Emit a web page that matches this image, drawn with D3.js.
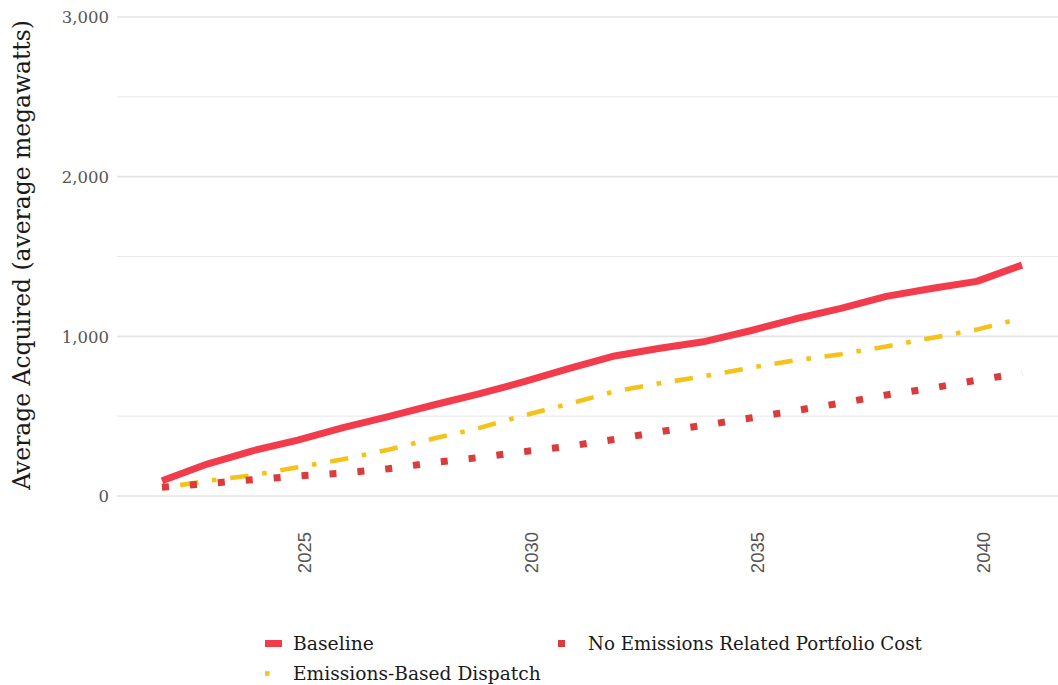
<!DOCTYPE html>
<html>
<head>
<meta charset="utf-8">
<script src="https://cdn.jsdelivr.net/npm/d3@7"></script>
<style>
  html, body { margin: 0; padding: 0; background: #fff; }
  svg { display: block; }
</style>
</head>
<body>
<svg id="chart" width="1058" height="685"></svg>
<script>
// ---- data ----
const years = [2022, 2023, 2024, 2025, 2026, 2027, 2028, 2029, 2030, 2031,
               2032, 2033, 2034, 2035, 2036, 2037, 2038, 2039, 2040, 2041];
const baseline = [95, 200, 283, 350, 428, 497, 570, 639, 716, 799,
                  877, 925, 968, 1035, 1110, 1175, 1250, 1300, 1344, 1446];
const emissionsBasedDispatch = [50, 95, 130, 180, 230, 290, 360, 425, 505, 578,
                                655, 706, 752, 803, 850, 888, 937, 990, 1042, 1113];
const noEmissionsPortfolioCost = [55, 78, 102, 125, 143, 171, 209, 241, 278, 312,
                                  355, 403, 444, 488, 535, 582, 633, 675, 725, 772];
const seriesNames = ["Baseline", "Emissions-Based Dispatch", "No Emissions Related Portfolio Cost"];
const yMajorTicks = [0, 1000, 2000, 3000];
const yMinorTicks = [500, 1500, 2500];
const xTicks = [2025, 2030, 2035, 2040];
const yTitle = "Average Acquired (average megawatts)";

// ---- styles ----
const colors = ["#F23C4C", "#F5C21B", "#DA3B3B"];
const widths = [7, 4.6, 7];
const dashes = [null, "4.6,13.8,18.4,13.8", "7,21"];

const svg = d3.select("#chart");
const x = d3.scaleLinear().domain([2022, 2041]).range([162, 1022]);
const y = d3.scaleLinear().domain([0, 3000]).range([496, 17]);
const plotLeft = 117, plotRight = 1058;

// gridlines
svg.append("g").selectAll("line.minor").data(yMinorTicks).join("line")
  .attr("x1", plotLeft).attr("x2", plotRight)
  .attr("y1", d => y(d)).attr("y2", d => y(d))
  .attr("stroke", "#ebebeb").attr("stroke-width", 1.1);
svg.append("g").selectAll("line.major").data(yMajorTicks).join("line")
  .attr("x1", plotLeft).attr("x2", plotRight)
  .attr("y1", d => y(d)).attr("y2", d => y(d))
  .attr("stroke", "#e4e4e4").attr("stroke-width", 1.7);

// y axis labels
const yAxis = d3.axisLeft(y).tickValues(yMajorTicks).tickFormat(d3.format(",")).tickSize(0).tickPadding(0);
const yg = svg.append("g").attr("transform", "translate(109,0)").call(yAxis);
yg.select(".domain").remove();
yg.selectAll("text").attr("font-family", "'DejaVu Serif', serif").attr("font-size", 16.5)
  .attr("fill", "#555").attr("dy", "0.36em");

// x axis labels
const xAxis = d3.axisBottom(x).tickValues(xTicks).tickFormat(d3.format("d")).tickSize(0).tickPadding(0);
const xg = svg.append("g").attr("transform", "translate(0,0)").call(xAxis);
xg.select(".domain").remove();
xg.selectAll(".tick").attr("transform", d => `translate(${x(d) + 7},532)`);
xg.selectAll("text")
  .attr("font-family", "'Liberation Sans', Arial, sans-serif").attr("font-size", 18.5)
  .attr("fill", "#555").attr("y", 0).attr("dy", "0.35em")
  .attr("transform", "rotate(-90)").attr("text-anchor", "end");

// y title
const yt = svg.append("text")
  .attr("transform", "translate(22,255) rotate(-90)")
  .attr("text-anchor", "middle").attr("dy", "0.35em")
  .attr("font-family", "'DejaVu Serif', serif").attr("font-size", 22)
  .attr("fill", "#1a1a1a").text(yTitle);
function fit(sel, target) {
  const fs = +sel.attr("font-size");
  const w = sel.node().getComputedTextLength();
  if (w > 0) sel.attr("font-size", fs * target / w);
}
fit(yt, 470);

// lines
const allSeries = [baseline, emissionsBasedDispatch, noEmissionsPortfolioCost];
const line = d3.line().x((d, i) => x(years[i])).y(d => y(d));
allSeries.forEach((s, k) => {
  svg.append("path").datum(s)
    .attr("d", line)
    .attr("fill", "none")
    .attr("stroke", colors[k])
    .attr("stroke-width", widths[k])
    .attr("stroke-linejoin", "round")
    .attr("stroke-linecap", "butt")
    .attr("stroke-dasharray", dashes[k]);
});

// legend
const legendPos = [[265, 643.5, 293, 81], [265, 673.5, 293, 248], [558, 643.5, 588, 334]];
seriesNames.forEach((name, k) => {
  const [kx, ky, tx, tw] = legendPos[k];
  svg.append("line")
    .attr("x1", kx).attr("x2", kx + 17).attr("y1", ky).attr("y2", ky)
    .attr("stroke", colors[k]).attr("stroke-width", widths[k])
    .attr("stroke-linecap", "butt")
    .attr("stroke-dasharray", dashes[k]);
  const t = svg.append("text")
    .attr("x", tx).attr("y", ky).attr("dy", "0.36em")
    .attr("font-family", "'DejaVu Serif', serif").attr("font-size", 17)
    .attr("fill", "#1a1a1a").text(name);
  fit(t, tw);
});
</script>
</body>
</html>
